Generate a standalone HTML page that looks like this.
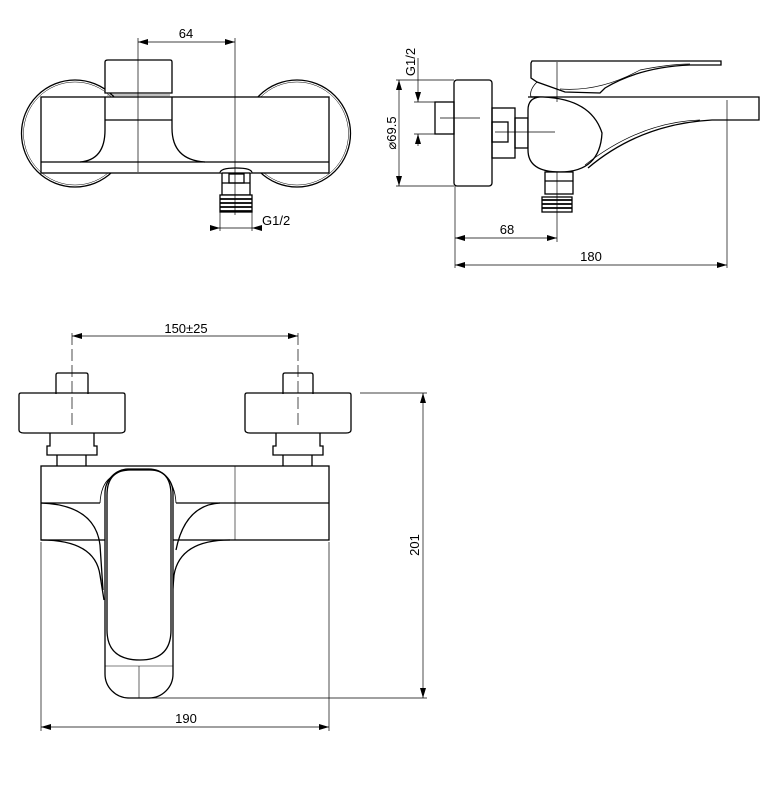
<!DOCTYPE html>
<html><head><style>
html,body{margin:0;padding:0;background:#fff;}
svg{display:block;}
text{font-family:"Liberation Sans",sans-serif;font-size:13px;fill:#000;}
</style></head><body>
<svg width="783" height="785" viewBox="0 0 783 785" xmlns="http://www.w3.org/2000/svg">
<defs>
<marker id="a" viewBox="0 0 10 6" refX="10" refY="3" markerWidth="10" markerHeight="6" orient="auto-start-reverse" markerUnits="userSpaceOnUse"><path d="M0,0 L10,3 L0,6 z" fill="#000"/></marker>
</defs>
<g fill="none" stroke="#000" stroke-width="1.3">
<!-- TOP LEFT VIEW -->
<circle cx="75" cy="133.5" r="53.5"/>
<circle cx="75" cy="133.5" r="51.5" stroke-width="0.5"/>
<circle cx="297" cy="133.5" r="53.5"/>
<circle cx="297" cy="133.5" r="51.5" stroke-width="0.5"/>
<rect x="41" y="97" width="288" height="76" fill="#fff"/>
<line x1="41" y1="162" x2="329" y2="162"/>
<path d="M105,62 Q105,60 108,60 L170,60 Q172,60 172,62 L172,93 L105,93 Z" fill="#fff"/>
<line x1="107" y1="95" x2="170" y2="95" stroke-width="0.6"/>
<path d="M105,97 L105,130 Q105,160 80,162"/>
<path d="M172,97 L172,128 Q172,160 205,162"/>
<line x1="105" y1="120" x2="172" y2="120"/>
<path d="M220,173 Q220,168 236,168 Q252,168 252,173" fill="#fff"/>
<rect x="222" y="173" width="28" height="22" fill="#fff"/>
<rect x="229" y="174" width="15" height="9"/>
<line x1="222" y1="183" x2="250" y2="183"/>
<rect x="220" y="195" width="32" height="17" fill="#fff"/>
<g stroke-width="1.8"><line x1="220" y1="199" x2="252" y2="199"/><line x1="220" y1="203" x2="252" y2="203"/><line x1="220" y1="207" x2="252" y2="207"/><line x1="220" y1="211" x2="252" y2="211"/></g>
<g stroke-width="0.7">
<line x1="138" y1="38" x2="138" y2="172"/>
<line x1="235" y1="38" x2="235" y2="215"/>
<line x1="138" y1="42" x2="235" y2="42" marker-start="url(#a)" marker-end="url(#a)"/>
<line x1="220" y1="212" x2="220" y2="231"/>
<line x1="252" y1="212" x2="252" y2="231"/>
<line x1="210" y1="228" x2="220" y2="228" marker-end="url(#a)"/>
<line x1="220" y1="228" x2="252" y2="228"/>
<line x1="262" y1="228" x2="252" y2="228" marker-end="url(#a)"/>
</g>
<!-- TOP RIGHT VIEW -->
<rect x="435" y="102" width="19" height="32"/>
<rect x="454" y="80" width="38" height="106" rx="3"/>
<rect x="492" y="108" width="23" height="50"/>
<rect x="492" y="122" width="16" height="20"/>
<rect x="515" y="118" width="13" height="30"/>
<path d="M532,61 L721,61 L721,65 L690,65 Q640,67 605,88 L600,93 L565,92 L537,82 L531,78 L531,63 Z" fill="#fff"/>
<path d="M560,89 Q600,92 640,70 Q670,64 690,64" stroke-width="0.7"/>
<path d="M537,82 Q529,90 531,97" stroke-width="0.8"/>
<path d="M528,97 L759,97 L759,120 L712,120 Q640,124 588,168"/>
<path d="M531,97 Q590,95 602,133 Q600,172 560,172 Q528,172 528,150 L528,110 Q528,98 540,97" fill="#fff"/>
<path d="M585,165 Q640,122 700,120" stroke-width="0.7"/>
<rect x="545" y="172" width="28" height="22" fill="#fff"/>
<line x1="545" y1="181" x2="573" y2="181"/>
<rect x="542" y="197" width="30" height="15" fill="#fff"/>
<g stroke-width="1.8"><line x1="542" y1="200" x2="572" y2="200"/><line x1="542" y1="204" x2="572" y2="204"/><line x1="542" y1="208" x2="572" y2="208"/></g>
<g stroke-width="0.7">
<line x1="557" y1="62" x2="557" y2="102"/>
<line x1="557" y1="172" x2="557" y2="242"/>
<line x1="440" y1="118" x2="480" y2="118"/>
<line x1="495" y1="132" x2="555" y2="132"/>
<line x1="396" y1="80" x2="454" y2="80"/>
<line x1="396" y1="186" x2="454" y2="186"/>
<line x1="399" y1="80" x2="399" y2="186" marker-start="url(#a)" marker-end="url(#a)"/>
<line x1="414" y1="102" x2="435" y2="102"/>
<line x1="414" y1="134" x2="435" y2="134"/>
<line x1="418" y1="58" x2="418" y2="102" marker-end="url(#a)"/>
<line x1="418" y1="146" x2="418" y2="134" marker-end="url(#a)"/>
<line x1="455" y1="186" x2="455" y2="268"/>
<line x1="727" y1="100" x2="727" y2="268"/>
<line x1="455" y1="238" x2="557" y2="238" marker-start="url(#a)" marker-end="url(#a)"/>
<line x1="455" y1="265" x2="727" y2="265" marker-start="url(#a)" marker-end="url(#a)"/>
</g>
<!-- BOTTOM VIEW -->
<path d="M56,394 L56,375 Q56,373 58,373 L86,373 Q88,373 88,375 L88,394"/>
<path d="M19,395 Q19,393 21,393 L123,393 Q125,393 125,395 L125,430 Q125,433 120,433 L24,433 Q19,433 19,430 Z"/>
<path d="M50,433 L50,446 L47,446 L47,455 L97,455 L97,446 L94,446 L94,433"/>
<path d="M57,455 L57,466 M86,455 L86,466"/>
<path d="M283,394 L283,375 Q283,373 285,373 L311,373 Q313,373 313,375 L313,394"/>
<path d="M245,395 Q245,393 247,393 L349,393 Q351,393 351,395 L351,430 Q351,433 346,433 L250,433 Q245,433 245,430 Z"/>
<path d="M276,433 L276,446 L273,446 L273,455 L323,455 L323,446 L320,446 L320,433"/>
<path d="M283,455 L283,466 M312,455 L312,466"/>
<rect x="41" y="466" width="288" height="74"/>
<line x1="41" y1="503" x2="100" y2="503"/>
<line x1="176" y1="503" x2="329" y2="503"/>
<line x1="235" y1="466" x2="235" y2="540" stroke-width="0.6"/>
<path d="M100,503 Q101,485 110,478" stroke-width="0.8"/>
<path d="M176,503 Q175,485 166,478" stroke-width="0.8"/>
<path d="M41,503 Q95,505 100,545 L103,590"/>
<path d="M176,550 Q185,505 220,503"/>
<path d="M41,540 Q95,540 100,575 L104,600"/>
<path d="M172,600 L174,575 Q180,540 230,540"/>
<rect x="105" y="469" width="68" height="229" rx="24" fill="#fff"/>
<path d="M107,495 Q107,470 130,470 L150,470 Q171,470 171,495 L171,630 Q171,660 140,660 Q107,660 107,630 Z"/>
<line x1="105" y1="666" x2="173" y2="666" stroke-width="0.6"/>
<line x1="139" y1="666" x2="139" y2="698" stroke-width="0.6"/>
<g stroke-width="0.7">
<line x1="72" y1="333" x2="72" y2="425" stroke-dasharray="12,4"/>
<line x1="298" y1="333" x2="298" y2="425" stroke-dasharray="12,4"/>
<line x1="72" y1="336" x2="298" y2="336" marker-start="url(#a)" marker-end="url(#a)"/>
<line x1="360" y1="393" x2="427" y2="393"/>
<line x1="140" y1="698" x2="427" y2="698"/>
<line x1="423" y1="393" x2="423" y2="698" marker-start="url(#a)" marker-end="url(#a)"/>
<line x1="41" y1="542" x2="41" y2="731"/>
<line x1="329" y1="542" x2="329" y2="731"/>
<line x1="41" y1="727" x2="329" y2="727" marker-start="url(#a)" marker-end="url(#a)"/>
</g>
</g>
<text x="186" y="38" text-anchor="middle">64</text>
<text x="262" y="225">G1/2</text>
<text x="507" y="234" text-anchor="middle">68</text>
<text x="591" y="261" text-anchor="middle">180</text>
<text transform="translate(396,133) rotate(-90)" text-anchor="middle">⌀69.5</text>
<text transform="translate(415,62) rotate(-90)" text-anchor="middle">G1/2</text>
<text x="186" y="333" text-anchor="middle">150±25</text>
<text transform="translate(419,545) rotate(-90)" text-anchor="middle">201</text>
<text x="186" y="723" text-anchor="middle">190</text>
</svg>
</body></html>
